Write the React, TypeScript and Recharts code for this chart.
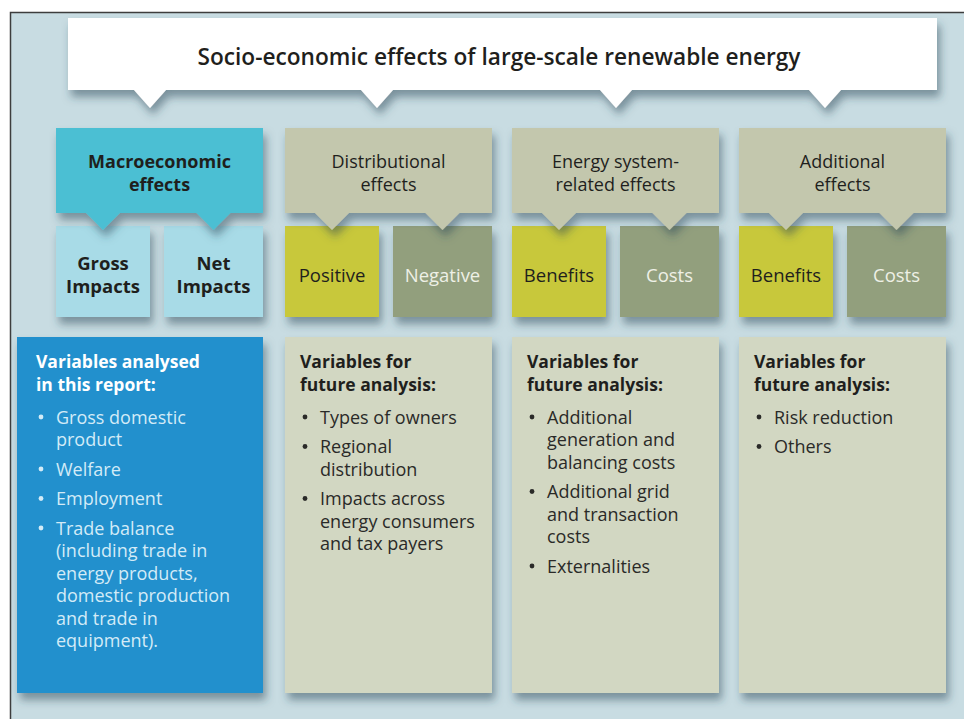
import { ComposedChart, ReferenceArea, Scatter, XAxis, YAxis } from 'recharts'

// ---- content ----
const chartTitle = 'Socio-economic effects of large-scale renewable energy'

const effectGroups = [
  ['Macroeconomic', 'effects'],
  ['Distributional', 'effects'],
  ['Energy system-', 'related effects'],
  ['Additional', 'effects'],
]

const effectSides = [
  [['Gross', 'Impacts'], ['Net', 'Impacts']],
  [['Positive'], ['Negative']],
  [['Benefits'], ['Costs']],
  [['Benefits'], ['Costs']],
]

const variableHeadings = [
  ['Variables analysed', 'in this report:'],
  ['Variables for', 'future analysis:'],
  ['Variables for', 'future analysis:'],
  ['Variables for', 'future analysis:'],
]

const variableItems = [
  [
    ['Gross domestic', 'product'],
    ['Welfare'],
    ['Employment'],
    ['Trade balance', '(including trade in', 'energy products,', 'domestic production', 'and trade in', 'equipment).'],
  ],
  [['Types of owners'], ['Regional', 'distribution'], ['Impacts across', 'energy consumers', 'and tax payers']],
  [
    ['Additional', 'generation and', 'balancing costs'],
    ['Additional grid', 'and transaction', 'costs'],
    ['Externalities'],
  ],
  [['Risk reduction'], ['Others']],
]

// ---- styles ----
const FONT = '"Open Sans", "DejaVu Sans", sans-serif'
const DARK = '#1f1f1d'

const groupStyles = [
  {
    head: '#4cbfd3',
    headWeight: 700,
    sides: [
      { fill: '#a8dbe7', text: DARK, weight: 700 },
      { fill: '#a8dbe7', text: DARK, weight: 700 },
    ],
    body: '#2190cd',
    bodyHeading: '#ffffff',
    bodyText: '#d3ebf7',
  },
  {
    head: '#c3c7ad',
    headWeight: 400,
    sides: [
      { fill: '#c8c83a', text: DARK, weight: 400 },
      { fill: '#929f7d', text: '#eef0e6', weight: 400 },
    ],
    body: '#d2d7c2',
    bodyHeading: DARK,
    bodyText: '#2a2a28',
  },
]
const styleFor = (i: number) => (i === 0 ? groupStyles[0] : groupStyles[1])

// ---- layout (domain units == pixels) ----
const W = 964
const H = 719
const FRAME = { x1: 10, x2: 964, y1: 12, y2: 719 }
const BANNER = { x1: 68, x2: 937, y1: 18, y2: 90 }
const BANNER_POINTERS = [150, 377, 616, 825]
const COLUMN_X = [56, 285, 512, 739]
const COLUMN_W = 207
const HEAD = { y1: 128, y2: 213 }
const SIDE = { y1: 226, y2: 317, leftW: 94, gap: 14 }
const BODY = { y1: 337, y2: 693, firstX: 17 }
const extent = [
  { x: 0, y: 0 },
  { x: W, y: H },
]

type AreaProps = { x?: number; y?: number; width?: number; height?: number }

function Backdrop({ x = 0, y = 0, width = 0, height = 0 }: AreaProps) {
  return (
    <g>
      <defs>
        <filter id="drop" x="-10%" y="-10%" width="125%" height="135%">
          <feDropShadow dx="3" dy="7" stdDeviation="4.5" floodColor="#2c4654" floodOpacity="0.5" />
        </filter>
      </defs>
      <rect x={x} y={y} width={width} height={height} fill="#c8dce2" />
      <path d={`M${x + 0.5},${y + height} V${y + 0.5} H${x + width}`} stroke="#3d3d3d" strokeWidth={1.5} fill="none" />
    </g>
  )
}

function Banner({ x = 0, y = 0, width = 0, height = 0 }: AreaProps) {
  const bottom = y + height
  const tips = [...BANNER_POINTERS].sort((a, b) => b - a).map((p) => x + (p - BANNER.x1))
  let d = `M${x},${y} H${x + width} V${bottom}`
  tips.forEach((cx) => {
    d += ` L${cx + 16},${bottom} L${cx},${bottom + 18} L${cx - 16},${bottom}`
  })
  d += ` L${x},${bottom} Z`
  return (
    <g>
      <path d={d} fill="#ffffff" filter="url(#drop)" />
      <text
        x={x + (499 - BANNER.x1)}
        y={y + 47}
        textAnchor="middle"
        fontFamily={FONT}
        fontWeight={600}
        fontSize={24}
        fill={DARK}
        textLength={603}
        lengthAdjust="spacingAndGlyphs"
      >
        {chartTitle}
      </text>
    </g>
  )
}

function centeredLines(lines: string[], cx: number, cy: number, size: number, lh: number, fill: string, weight: number) {
  const start = cy - ((lines.length - 1) * lh) / 2
  return lines.map((line, k) => (
    <text
      key={k}
      x={cx}
      y={start + k * lh + size * 0.36}
      textAnchor="middle"
      fontFamily={FONT}
      fontSize={size}
      fontWeight={weight}
      fill={fill}
    >
      {line}
    </text>
  ))
}

function HeadBox({ x = 0, y = 0, width = 0, height = 0, col }: AreaProps & { col: number }) {
  const st = styleFor(col)
  const bottom = y + height
  const leftC = x + SIDE.leftW / 2
  const rightC = x + SIDE.leftW + SIDE.gap + (width - SIDE.leftW - SIDE.gap) / 2
  const d =
    `M${x},${y} H${x + width} V${bottom}` +
    ` L${rightC + 17},${bottom} L${rightC},${bottom + 17} L${rightC - 17},${bottom}` +
    ` L${leftC + 17},${bottom} L${leftC},${bottom + 17} L${leftC - 17},${bottom}` +
    ` L${x},${bottom} Z`
  return (
    <g>
      <path d={d} fill={st.head} filter="url(#drop)" />
      {centeredLines(effectGroups[col], x + width / 2, y + height / 2 + 2.5, 18, 22.5, DARK, st.headWeight)}
    </g>
  )
}

function SideBox({ x = 0, y = 0, width = 0, height = 0, col, side }: AreaProps & { col: number; side: number }) {
  const st = styleFor(col).sides[side]
  return (
    <g>
      <rect x={x} y={y} width={width} height={height} fill={st.fill} filter="url(#drop)" />
      {centeredLines(effectSides[col][side], x + width / 2, y + height / 2 + 3.5, 18.5, 23.5, st.text, st.weight)}
    </g>
  )
}

function BodyBox({ x = 0, y = 0, width = 0, height = 0, col }: AreaProps & { col: number }) {
  const st = styleFor(col)
  const pad = col === 0 ? 19 : 15
  const lh = 22.5
  const nodes: any[] = []
  variableHeadings[col].forEach((line, k) => {
    nodes.push(
      <text key={`h${k}`} x={x + pad} y={y + 31 + k * lh} fontFamily={FONT} fontSize={17.5} fontWeight={700} fill={st.bodyHeading}>
        {line}
      </text>,
    )
  })
  let cy = y + 80
  variableItems[col].forEach((item, i) => {
    nodes.push(<circle key={`b${i}`} cx={x + pad + 5} cy={cy} r={2.4} fill={st.bodyText} />)
    item.forEach((line, k) => {
      nodes.push(
        <text key={`t${i}-${k}`} x={x + pad + 20} y={cy + k * lh + 6.5} fontFamily={FONT} fontSize={18} fill={st.bodyText}>
          {line}
        </text>,
      )
    })
    cy += item.length * lh + 7
  })
  return (
    <g>
      <rect x={x} y={y} width={width} height={height} fill={st.body} filter="url(#drop)" />
      {nodes}
    </g>
  )
}

export default function App() {
  return (
    <div style={{ position: 'absolute', left: 0, top: 0, width: W, height: H, background: '#ffffff' }}>
      <ComposedChart width={W} height={H} data={extent} margin={{ top: 0, right: 0, bottom: 0, left: 0 }}>
        <XAxis type="number" dataKey="x" domain={[0, W]} allowDataOverflow hide />
        <YAxis type="number" dataKey="y" domain={[0, H]} allowDataOverflow reversed hide />
        <Scatter dataKey="y" fill="none" isAnimationActive={false} />
        <ReferenceArea x1={FRAME.x1} x2={FRAME.x2} y1={FRAME.y1} y2={FRAME.y2} ifOverflow="visible" shape={(p: AreaProps) => <Backdrop {...p} />} />
        <ReferenceArea x1={BANNER.x1} x2={BANNER.x2} y1={BANNER.y1} y2={BANNER.y2} ifOverflow="visible" shape={(p: AreaProps) => <Banner {...p} />} />
        {COLUMN_X.map((cx, col) => (
          <ReferenceArea
            key={`body${col}`}
            x1={col === 0 ? BODY.firstX : cx}
            x2={cx + COLUMN_W}
            y1={BODY.y1}
            y2={BODY.y2}
            ifOverflow="visible"
            shape={(p: AreaProps) => <BodyBox {...p} col={col} />}
          />
        ))}
        {COLUMN_X.map((cx, col) =>
          [0, 1].map((side) => (
            <ReferenceArea
              key={`side${col}-${side}`}
              x1={side === 0 ? cx : cx + SIDE.leftW + SIDE.gap}
              x2={side === 0 ? cx + SIDE.leftW : cx + COLUMN_W}
              y1={SIDE.y1}
              y2={SIDE.y2}
              ifOverflow="visible"
              shape={(p: AreaProps) => <SideBox {...p} col={col} side={side} />}
            />
          )),
        )}
        {COLUMN_X.map((cx, col) => (
          <ReferenceArea
            key={`head${col}`}
            x1={cx}
            x2={cx + COLUMN_W}
            y1={HEAD.y1}
            y2={HEAD.y2}
            ifOverflow="visible"
            shape={(p: AreaProps) => <HeadBox {...p} col={col} />}
          />
        ))}
      </ComposedChart>
    </div>
  )
}
